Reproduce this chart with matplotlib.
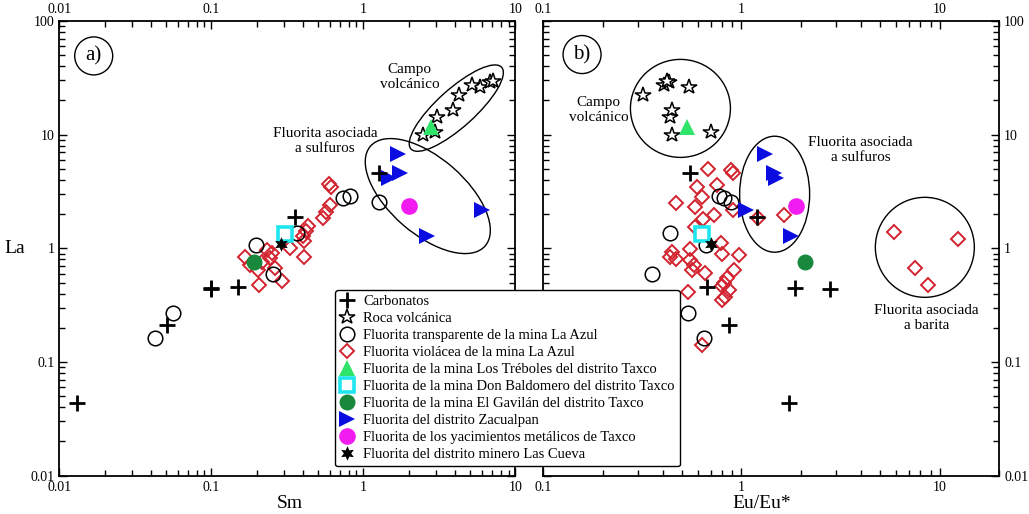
import numpy as np
import matplotlib.pyplot as plt
from matplotlib.patches import Ellipse
from matplotlib.transforms import IdentityTransform
from matplotlib.ticker import LogLocator, NullFormatter, FixedLocator, FixedFormatter

plt.rcParams['font.family'] = ['Liberation Serif', 'DejaVu Serif']

# Data

# Carbonatos
carb_la = [4.6, 1.9, 0.46, 0.45, 0.44, 0.21, 0.044]
carb_sm = [1.26, 0.355, 0.149, 0.1, 0.1, 0.0508, 0.0131]
carb_eu = [0.553, 1.2, 0.67, 1.87, 2.81, 0.863, 1.73]

# Roca volcanica
volc_la = [9.9, 10.6, 14.2, 16.6, 22.5, 26.0, 27.2, 29.1, 29.7]
volc_sm = [2.47, 2.95, 3.06, 3.86, 4.26, 5.83, 5.14, 6.79, 7.07]
volc_eu = [0.447, 0.698, 0.438, 0.447, 0.318, 0.542, 0.406, 0.43, 0.42]

# Fluorita transparente La Azul
transp_la = [0.163, 0.27, 1.06, 0.6, 1.36, 2.75, 2.88, 2.56]
transp_sm = [0.0426, 0.0562, 0.196, 0.253, 0.364, 0.73, 0.82, 1.26]
transp_eu = [0.65, 0.538, 0.666, 0.352, 0.438, 0.814, 0.769, 0.89]

# Fluorita violacea La Azul (panel a)
viol_sm = [0.593, 0.611, 0.602, 0.567, 0.542, 0.432, 0.419, 0.40, 0.406, 0.406,
           0.25, 0.243, 0.232, 0.166, 0.179, 0.206, 0.291, 0.202, 0.215, 0.262, 0.329]
viol_la_a = [3.68, 3.46, 2.40, 2.09, 1.85, 1.57, 1.42, 1.28, 1.16, 0.84,
             0.91, 0.82, 0.97, 0.84, 0.71, 0.475, 0.52, 0.64, 0.76, 0.67, 1.0]
# (panel b)
viol_eu = [0.679, 0.89, 0.904, 0.597, 0.753, 0.633, 0.465, 0.581, 0.904, 0.725,
           0.638, 0.586, 1.63, 1.21, 0.784, 0.969, 0.798, 0.553, 0.447, 0.438,
           0.465, 0.553, 0.575, 0.564, 0.651, 0.915, 0.846, 0.814, 0.793, 0.538,
           0.798, 0.824, 0.87, 0.629, 5.86, 12.4, 7.48, 8.7]
viol_la_b = [4.98, 4.88, 4.57, 3.44, 3.6, 2.84, 2.49, 2.30, 2.17, 1.96,
             1.80, 1.55, 1.96, 1.84, 1.11, 0.874, 0.89, 0.98, 0.933, 0.844,
             0.80, 0.79, 0.71, 0.644, 0.61, 0.644, 0.545, 0.50, 0.466, 0.415,
             0.351, 0.375, 0.43, 0.141, 1.40, 1.20, 0.667, 0.475]

# single samples
treb_la, treb_sm, treb_eu = [11.7], [2.77], [0.532]
bald_la, bald_sm, bald_eu = [1.34], [0.305], [0.633]
gavi_la, gavi_sm, gavi_eu = [0.76], [0.19], [2.08]
taxco_la, taxco_sm, taxco_eu = [2.35], [2.0], [1.88]
cueva_la, cueva_sm, cueva_eu = [1.1], [0.286], [0.698]

# Zacualpan
zac_la = [6.7, 4.6, 4.15, 2.17, 1.27]
zac_sm = [1.69, 1.74, 1.48, 5.98, 2.63]
zac_eu = [1.32, 1.46, 1.49, 1.05, 1.77]

labels = ["Carbonatos", "Roca volcánica",
          "Fluorita transparente de la mina La Azul",
          "Fluorita violácea de la mina La Azul",
          "Fluorita de la mina Los Tréboles del distrito Taxco",
          "Fluorita de la mina Don Baldomero del distrito Taxco",
          "Fluorita de la mina El Gavilán del distrito Taxco",
          "Fluorita del distrito Zacualpan",
          "Fluorita de los yacimientos metálicos de Taxco",
          "Fluorita del distrito minero Las Cueva"]

RED = '#d2232f'
hexstar = (6, 1, 0)


def ring(ax, xy, w, h, angle=0, coords='data'):
    # ellipse sized in pixels, centred on a data / axes point
    tr = ax.transData if coords == 'data' else ax.transAxes
    cx, cy = tr.transform(xy)
    ax.add_patch(Ellipse((cx, cy), w, h, angle=angle, transform=IdentityTransform(),
                         fill=False, ec='black', lw=1.0, zorder=1))


def setup(ax, xlim, xticks, left_labels):
    ax.set_xscale('log')
    ax.set_yscale('log')
    ax.set_xlim(*xlim)
    ax.set_ylim(0.01, 100)
    ax.xaxis.set_major_locator(FixedLocator(xticks))
    ax.xaxis.set_major_formatter(FixedFormatter([f"{t:g}" for t in xticks]))
    yt = [0.01, 0.1, 1, 10, 100]
    ax.yaxis.set_major_locator(FixedLocator(yt))
    ax.yaxis.set_major_formatter(FixedFormatter([f"{t:g}" for t in yt]))
    for a in (ax.xaxis, ax.yaxis):
        a.set_minor_locator(LogLocator(base=10, subs=np.arange(2, 10)))
        a.set_minor_formatter(NullFormatter())
    ax.tick_params(which='both', direction='in', top=True, bottom=True, left=True, right=True,
                   labeltop=True, labelbottom=True, labelleft=left_labels,
                   labelright=not left_labels, labelsize=10, width=1.0, pad=3.5)
    ax.tick_params(which='major', length=6)
    ax.tick_params(which='minor', length=4.5)
    for s in ax.spines.values():
        s.set_linewidth(1.3)


def plot_group(ax, x, y, **kw):
    ax.plot(x, y, ls='none', **kw)


fig = plt.figure(figsize=(10.29, 5.14), dpi=100)
ax_a = fig.add_axes([0.05763, 0.07451, 0.44334, 0.88483])
ax_b = fig.add_axes([0.52799, 0.07451, 0.44315, 0.88483])

setup(ax_a, (0.01, 10), [0.01, 0.1, 1, 10], True)
setup(ax_b, (0.1, 20), [0.1, 1, 10], False)

for ax, xs in ((ax_a, 'sm'), (ax_b, 'eu')):
    pick = lambda sm, eu: sm if xs == 'sm' else eu
    vx = viol_sm if xs == 'sm' else viol_eu
    vy = viol_la_a if xs == 'sm' else viol_la_b
    plot_group(ax, pick(carb_sm, carb_eu), carb_la, marker='+', color='black', ms=11.5, mew=2.0,
               label=labels[0], zorder=5)
    plot_group(ax, pick(volc_sm, volc_eu), volc_la, marker='*', mfc='white', mec='black', ms=11.5,
               mew=1.1, label=labels[1], zorder=3)
    plot_group(ax, vx, vy, marker='D', mfc='none', mec=RED, ms=7.5, mew=1.4,
               label=labels[3], zorder=3)
    plot_group(ax, pick(transp_sm, transp_eu), transp_la, marker='o', mfc='none', mec='black',
               ms=10.5, mew=1.1, label=labels[2], zorder=4)
    plot_group(ax, pick(treb_sm, treb_eu), treb_la, marker='^', color='#2fe46a', ms=11,
               mew=0, label=labels[4], zorder=4)
    plot_group(ax, pick(bald_sm, bald_eu), bald_la, marker='s', mfc='white', mec='#1ee6ef',
               ms=10, mew=2.6, label=labels[5], zorder=4)
    plot_group(ax, pick(gavi_sm, gavi_eu), gavi_la, marker='o', color='#17883c', ms=11.5,
               mew=0, label=labels[6], zorder=4)
    plot_group(ax, pick(zac_sm, zac_eu), zac_la, marker='>', color='#0b0de0', ms=11.5,
               mew=0, label=labels[7], zorder=4)
    plot_group(ax, pick(taxco_sm, taxco_eu), taxco_la, marker='o', color='#f01cf0', ms=12,
               mew=0, label=labels[8], zorder=4)
    plot_group(ax, pick(cueva_sm, cueva_eu), cueva_la, marker=hexstar, color='black', ms=10.5,
               mew=0, label=labels[9], zorder=6)

# fields, panel a
ring(ax_a, (4.08, 17.1), 122, 38, angle=42)
ring(ax_a, (2.65, 2.88), 152, 76, angle=-41)
ax_a.text(2.02, 32.1, "Campo\nvolcánico", ha='center', va='center', fontsize=11, linespacing=1.2)
ax_a.text(0.559, 8.78, "Fluorita asociada\na sulfuros", ha='center', va='center', fontsize=11,
          linespacing=1.2)

# fields, panel b
ring(ax_b, (0.492, 17.0), 100, 98)
ring(ax_b, (1.47, 2.99), 70, 116)
ring(ax_b, (8.42, 1.02), 99, 100)
ax_b.text(0.1907, 16.5, "Campo\nvolcánico", ha='center', va='center', fontsize=11, linespacing=1.2)
ax_b.text(4.0, 7.32, "Fluorita asociada\na sulfuros", ha='center', va='center', fontsize=11,
          linespacing=1.2)
ax_b.text(8.6, 0.244, "Fluorita asociada\na barita", ha='center', va='center', fontsize=11,
          linespacing=1.2)

# panel tags
for ax, tag, pos in ((ax_a, "a)", (0.0754, 0.923)), (ax_b, "b)", (0.085, 0.926))):
    ring(ax, pos, 38, 38, coords='axes')
    ax.text(*pos, tag, transform=ax.transAxes, ha='center', va='center', fontsize=15)

fig.text(15 / 1029, 1 - 248 / 514, "La", ha='center', va='center', fontsize=14)
fig.text(290 / 1029, 1 - 503 / 514, "Sm", ha='center', va='center', fontsize=14)
fig.text(762 / 1029, 1 - 503 / 514, "Eu/Eu*", ha='center', va='center', fontsize=14)

handles, labs = ax_a.get_legend_handles_labels()
order = [labs.index(l) for l in labels]
leg = fig.legend([handles[i] for i in order], [labs[i] for i in order],
                 loc='upper left', bbox_to_anchor=(335 / 1029, 1 - 290 / 514),
                 fontsize=10.5, frameon=True, fancybox=True, framealpha=1, edgecolor='black',
                 handlelength=1.0, handletextpad=0.6, labelspacing=0.26, borderpad=0.35,
                 borderaxespad=0)
leg.get_frame().set_linewidth(1.0)

fig.savefig("out.png", dpi=100)
